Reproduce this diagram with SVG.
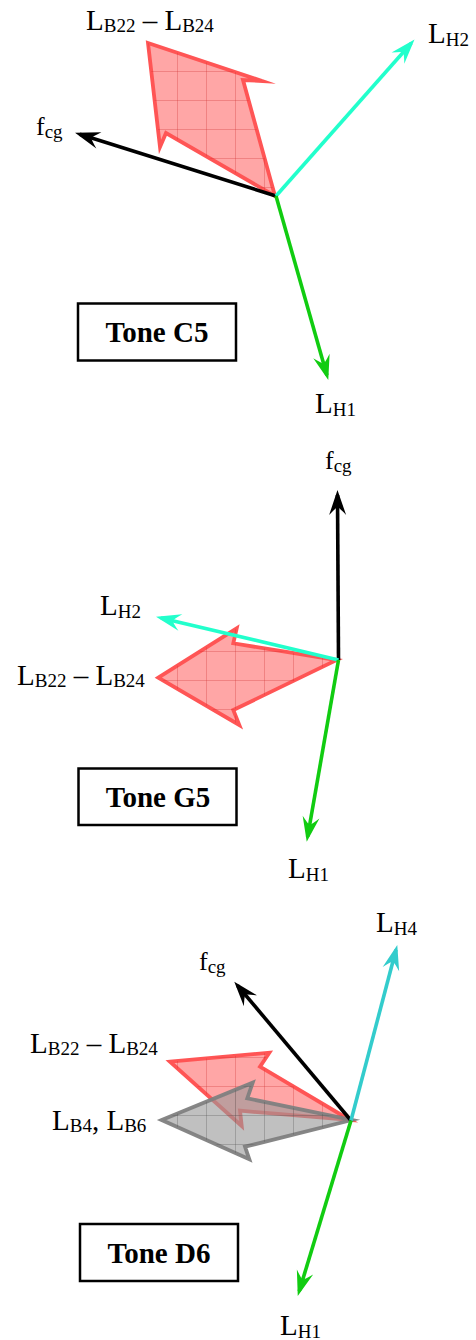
<svg xmlns="http://www.w3.org/2000/svg" width="476" height="1340" viewBox="0 0 476 1340">
<style>
.lbl{font-family:"Liberation Serif","Times New Roman",serif;font-size:29px;fill:#000}
.sub{font-size:19px}
.f{font-size:26px}
.box{fill:#fff;stroke:#000;stroke-width:2.5}
.tone{font-family:"Liberation Serif","Times New Roman",serif;font-size:29px;font-weight:bold;text-anchor:middle;fill:#000}
.vec{fill:none;stroke-width:3.6}
.k{stroke:#000;marker-end:url(#ah-k)}
.c{stroke:#22ffcc;marker-end:url(#ah-c)}
.g{stroke:#11cc11;marker-end:url(#ah-g)}
.t{stroke:#33cccc;marker-end:url(#ah-t)}
.red{fill:#ff5555;fill-opacity:0.52;stroke:#ff5555;stroke-width:3.8;stroke-linejoin:miter;stroke-miterlimit:10}
.gray{fill:#999999;fill-opacity:0.62;stroke:#808080;stroke-opacity:0.95;stroke-width:3.8;stroke-linejoin:miter;stroke-miterlimit:10}
.rgrid{fill:url(#gridR);stroke:none}
.ggrid{fill:url(#gridG);stroke:none}
</style>
<defs>
<pattern id="gridR" patternUnits="userSpaceOnUse" x="3" y="13" width="29" height="29">
<path d="M0,0.5 H29 M0.5,0 V29" stroke="#d03030" stroke-opacity="0.3" stroke-width="1" fill="none"/>
</pattern>
<pattern id="gridG" patternUnits="userSpaceOnUse" x="3" y="13" width="29" height="29">
<path d="M0,0.5 H29 M0.5,0 V29" stroke="#505050" stroke-opacity="0.3" stroke-width="1" fill="none"/>
</pattern>
<marker id="ah-k" markerUnits="userSpaceOnUse" viewBox="-27 -10 30 20" markerWidth="30" markerHeight="20" refX="-5" refY="0" orient="auto">
<path d="M0,0 L-25,-8.5 Q-18,-2 -17,0 Q-18,2 -25,8.5 Z" fill="#000"/>
</marker>
<marker id="ah-c" markerUnits="userSpaceOnUse" viewBox="-27 -10 30 20" markerWidth="30" markerHeight="20" refX="-5" refY="0" orient="auto">
<path d="M0,0 L-25,-8.5 Q-18,-2 -17,0 Q-18,2 -25,8.5 Z" fill="#22ffcc"/>
</marker>
<marker id="ah-g" markerUnits="userSpaceOnUse" viewBox="-27 -10 30 20" markerWidth="30" markerHeight="20" refX="-5" refY="0" orient="auto">
<path d="M0,0 L-25,-8.5 Q-18,-2 -17,0 Q-18,2 -25,8.5 Z" fill="#11cc11"/>
</marker>
<marker id="ah-t" markerUnits="userSpaceOnUse" viewBox="-27 -10 30 20" markerWidth="30" markerHeight="20" refX="-5" refY="0" orient="auto">
<path d="M0,0 L-25,-8.5 Q-18,-2 -17,0 Q-18,2 -25,8.5 Z" fill="#33cccc"/>
</marker>
</defs>

<!-- Panel 1: Tone C5 -->
<g id="c5-bands">
<polygon class="red" points="148,43 262,81 243,80 275,196 166,133 160,147"/>
<polygon class="rgrid" points="148,43 262,81 243,80 275,196 166,133 160,147"/>
</g>
<g id="c5-connectors">
<line class="vec k" x1="276" y1="196" x2="79.8" y2="134.3"/>
<line class="vec c" x1="276" y1="196" x2="411.2" y2="43.2"/>
<line class="vec g" x1="276" y1="196" x2="326.9" y2="375.2"/>
</g>
<g id="c5-labels">
<text class="lbl" x="86" y="30">L<tspan class="sub" dy="2">B22</tspan><tspan dy="-2"> – L</tspan><tspan class="sub" dy="2">B24</tspan></text>
<text class="lbl" x="428" y="43">L<tspan class="sub" dy="3">H2</tspan></text>
<text class="lbl" x="36" y="135"><tspan class="f">f</tspan><tspan class="sub" dy="3">cg</tspan></text>
<text class="lbl" x="315" y="413">L<tspan class="sub" dy="3">H1</tspan></text>
</g>
<g id="c5-title">
<rect class="box" x="78" y="303.5" width="158" height="57"/>
<text class="tone" x="157" y="341.5">Tone C5</text>
</g>

<!-- Panel 2: Tone G5 -->
<g id="g5-bands">
<polygon class="red" points="158.3,677.7 236.7,628.3 233.3,643.3 336.7,660 233.3,710 239.3,725"/>
<polygon class="rgrid" points="158.3,677.7 236.7,628.3 233.3,643.3 336.7,660 233.3,710 239.3,725"/>
</g>
<g id="g5-connectors">
<line class="vec k" x1="338.5" y1="660" x2="337.5" y2="495"/>
<line class="vec c" x1="338.5" y1="660" x2="160.9" y2="617.9"/>
<line class="vec g" x1="338.5" y1="660" x2="307.6" y2="836.8"/>
</g>
<g id="g5-labels">
<text class="lbl" x="325" y="469"><tspan class="f">f</tspan><tspan class="sub" dy="3">cg</tspan></text>
<text class="lbl" x="100" y="615">L<tspan class="sub" dy="3">H2</tspan></text>
<text class="lbl" x="17" y="685">L<tspan class="sub" dy="2">B22</tspan><tspan dy="-2"> – L</tspan><tspan class="sub" dy="2">B24</tspan></text>
<text class="lbl" x="288" y="878">L<tspan class="sub" dy="3">H1</tspan></text>
</g>
<g id="g5-title">
<rect class="box" x="78.5" y="768.5" width="158" height="56.5"/>
<text class="tone" x="158" y="806.5">Tone G5</text>
</g>

<!-- Panel 3: Tone D6 -->
<g id="d6-bands">
<polygon class="red" points="170,1061.7 269.3,1052.7 260,1066.7 350,1120 240,1110.7 241.7,1126"/>
<polygon class="rgrid" points="170,1061.7 269.3,1052.7 260,1066.7 350,1120 240,1110.7 241.7,1126"/>
<polygon class="gray" points="161.7,1120 252.7,1082.7 247.3,1098.3 351.7,1120 245,1146.7 249.3,1159.3"/>
<polygon class="ggrid" points="161.7,1120 252.7,1082.7 247.3,1098.3 351.7,1120 245,1146.7 249.3,1159.3"/>
</g>
<g id="d6-connectors">
<line class="vec k" x1="351" y1="1120.5" x2="237.5" y2="985.5"/>
<line class="vec t" x1="351" y1="1120.5" x2="396" y2="949.8"/>
<line class="vec g" x1="351" y1="1120.5" x2="299.2" y2="1291.2"/>
</g>
<g id="d6-labels">
<text class="lbl" x="376" y="932">L<tspan class="sub" dy="3">H4</tspan></text>
<text class="lbl" x="199" y="970"><tspan class="f">f</tspan><tspan class="sub" dy="3">cg</tspan></text>
<text class="lbl" x="30" y="1053">L<tspan class="sub" dy="2">B22</tspan><tspan dy="-2"> – L</tspan><tspan class="sub" dy="2">B24</tspan></text>
<text class="lbl" x="52" y="1130">L<tspan class="sub" dy="2">B4</tspan><tspan dy="-2">, L</tspan><tspan class="sub" dy="2">B6</tspan></text>
<text class="lbl" x="280" y="1335">L<tspan class="sub" dy="3">H1</tspan></text>
</g>
<g id="d6-title">
<rect class="box" x="80" y="1224" width="158" height="57"/>
<text class="tone" x="159" y="1262.5">Tone D6</text>
</g>
</svg>
